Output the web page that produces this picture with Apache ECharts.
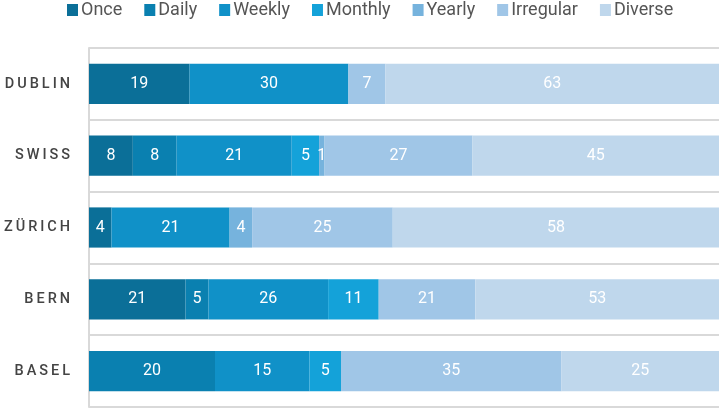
<!DOCTYPE html>
<html>
<head>
<meta charset="utf-8">
<script src="https://cdn.jsdelivr.net/npm/echarts@6/dist/echarts.min.js"></script>
<style>
  html, body { margin: 0; padding: 0; background: #fff; }
  #chart { width: 721px; height: 409px; }
</style>
</head>
<body>
<div id="chart"></div>
<script>
// chart data
var cities = ['DUBLIN', 'SWISS', 'ZÜRICH', 'BERN', 'BASEL'];
var kinds = ['Once', 'Daily', 'Weekly', 'Monthly', 'Yearly', 'Irregular', 'Diverse'];
var once = [19, 8, 4, 21, 0];
var daily = [0, 8, 0, 5, 20];
var weekly = [30, 21, 21, 26, 15];
var monthly = [0, 5, 0, 11, 5];
var yearly = [0, 1, 4, 0, 0];
var irregular = [7, 27, 25, 21, 35];
var diverse = [63, 45, 58, 53, 25];

var colors = ['#0b6f98', '#0a80b0', '#1091c8', '#14a2d9', '#76b3dd', '#a0c6e7', '#bfd7ec'];

window.onload = function () {
  drawChart();
};

function drawChart() {
  var myChart = echarts.init(document.getElementById('chart'));
  var all = [once, daily, weekly, monthly, yearly, irregular, diverse];

  // row totals, bars are shown as share of the row
  var totals = cities.map(function (c, i) {
    var s = 0;
    all.forEach(function (arr) { s += arr[i]; });
    return s;
  });

  var series = all.map(function (arr, k) {
    return {
      name: kinds[k],
      type: 'bar',
      stack: 'all',
      barWidth: '56%',
      itemStyle: { color: colors[k] },
      label: {
        show: true,
        position: 'inside',
        color: '#fff',
        fontSize: 16,
        fontFamily: 'Roboto',
        formatter: function (p) { return arr[p.dataIndex]; }
      },
      data: arr.map(function (v, i) {
        return v ? v / totals[i] * 100 : null;
      })
    };
  });

  var option = {
    animation: false,
    color: colors,
    legend: {
      top: -4,
      left: 62,
      itemWidth: 11,
      itemHeight: 12,
      itemGap: 22,
      icon: 'rect',
      textStyle: { color: '#555', fontSize: 18, fontFamily: 'Roboto', padding: [0, 0, 0, -2] },
      data: kinds
    },
    grid: { left: 89, right: 2, top: 48, bottom: 2 },
    xAxis: {
      type: 'value',
      min: 0,
      max: 100,
      show: false
    },
    yAxis: {
      type: 'category',
      inverse: true,
      data: cities,
      axisLine: { show: true, lineStyle: { color: '#d9d9d9', width: 2 } },
      axisTick: { show: false },
      splitLine: { show: true, lineStyle: { color: '#d9d9d9', width: 2 } },
      axisLabel: {
        color: '#444',
        fontSize: 14.5,
        fontWeight: 500,
        fontFamily: 'Roboto',
        margin: 19,
        formatter: function (v) { return v.split('').join('\u2009'); }
      }
    },
    series: series
  };

  myChart.setOption(option);
}
</script>
</body>
</html>
